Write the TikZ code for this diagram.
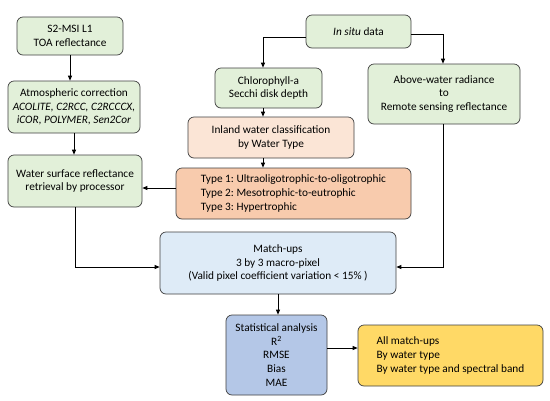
\documentclass[tikz,border=0pt]{standalone}
\usepackage{fontspec}
\setmainfont{Carlito}
\usetikzlibrary{arrows.meta}
\definecolor{bgreen}{HTML}{E2F0D9}
\definecolor{bpeach}{HTML}{FBE5D6}
\definecolor{borange}{HTML}{F8CBAD}
\definecolor{bblue}{HTML}{DEEBF7}
\definecolor{bdblue}{HTML}{B4C7E7}
\definecolor{byellow}{HTML}{FFD966}
\definecolor{bline}{HTML}{404040}
\begin{document}
\frenchspacing
\begin{tikzpicture}[x=1pt,y=-1pt,
  box/.style={draw=bline,line width=0.7pt,rounded corners=6pt,align=center,inner sep=0pt,font=\fontsize{11.3}{13.6}\selectfont},
  arr/.style={-{Triangle[length=5pt,width=4pt]},line width=0.8pt,black}]
\useasboundingbox (0,0) rectangle (550,400);
\fill[white] (0,0) rectangle (550,400);
\newcommand{\bx}[5]{\node[box,fill=#5,minimum width={#3-#1},minimum height={#4-#2}] at ({(#1+#3)/2},{(#2+#4)/2})}
\bx{17}{17}{123}{55}{bgreen} (s2) {S2-MSI L1\\TOA reflectance};
\bx{8}{81}{140}{133}{bgreen} (atm) {Atmospheric correction\\\textit{ACOLITE, C2RCC, C2RCCCX,}\\\textit{iCOR, POLYMER, Sen2Cor}};
\bx{8}{155}{142}{207}{bgreen} (wsr) {Water surface reflectance\\retrieval by processor};
\bx{306}{15}{411}{48}{bgreen} (ins) {\textit{In situ} data};
\bx{215}{68}{322}{108}{bgreen} (chl) {Chlorophyll-a\\Secchi disk depth};
\bx{368}{64}{520}{124}{bgreen} (abw) {Above-water radiance\\to\\Remote sensing reflectance};
\bx{188}{117}{354}{158}{bpeach} (iwc) {Inland water classification\\by Water Type};
\node[box,fill=borange,minimum width=235,minimum height=51,align=left] (typ) at (293.5,193.5) {Type 1: Ultraoligotrophic-to-oligotrophic\\Type 2: Mesotrophic-to-eutrophic\\Type 3: Hypertrophic};
\bx{160}{232}{396}{294}{bblue} (mu) {Match-ups\\3 by 3 macro-pixel\\(Valid pixel coefficient variation < 15\% )};
\bx{226}{315}{327}{395}{bdblue} (st) {Statistical analysis\\R\textsuperscript{2}\\RMSE\\Bias\\MAE};
\node[box,fill=byellow,minimum width=185,minimum height=61,align=left] (all) at (450.5,355.5) {All match-ups\\By water type\\By water type and spectral band};
\draw[arr] (s2.south -| 70,0) -- (atm.north -| 70,0);
\draw[arr] (atm.south -| 74,0) -- (wsr.north -| 74,0);
\draw[arr] (typ.west |- 0,188) -- (wsr.east |- 0,188);
\draw[arr] (wsr.south -| 75,0) |- (mu.west |- 0,267);
\draw[arr] (ins.west |- 0,37) -| (chl.north -| 263,0);
\draw[arr] (ins.east |- 0,34) -| (abw.north -| 443,0);
\draw[arr] (chl.south -| 263,0) -- (iwc.north -| 263,0);
\draw[arr] (iwc.south -| 263,0) -- (typ.north -| 263,0);
\draw[arr] (abw.south -| 443,0) |- (mu.east |- 0,267);
\draw[arr] (mu.south -| 278,0) -- (st.north -| 278,0);
\draw[arr] (st.east |- 0,348) -- (all.west |- 0,348);
\end{tikzpicture}
\end{document}
